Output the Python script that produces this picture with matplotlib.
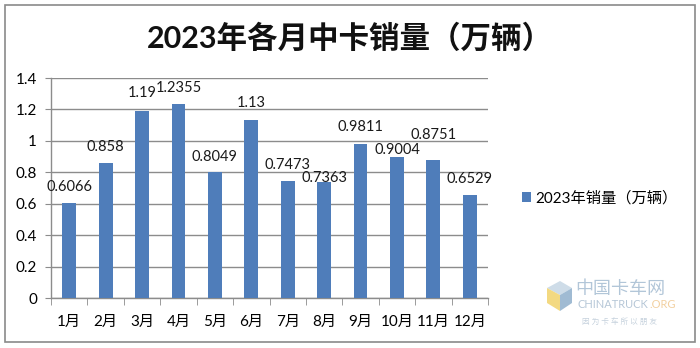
import matplotlib
matplotlib.use("Agg")
import matplotlib.pyplot as plt
from matplotlib.patches import Rectangle, Polygon

plt.rcParams['font.family'] = ['Lato', 'Noto Sans CJK SC', 'DejaVu Sans']

months = ["1月", "2月", "3月", "4月", "5月", "6月", "7月", "8月", "9月", "10月", "11月", "12月"]
sales = [0.6066, 0.858, 1.19, 1.2355, 0.8049, 1.13, 0.7473, 0.7363, 0.9811, 0.9004, 0.8751, 0.6529]
value_labels = ["0.6066", "0.858", "1.19", "1.2355", "0.8049", "1.13", "0.7473", "0.7363",
                "0.9811", "0.9004", "0.8751", "0.6529"]
y_ticks = [0, 0.2, 0.4, 0.6, 0.8, 1.0, 1.2, 1.4]
y_tick_labels = ["0", "0.2", "0.4", "0.6", "0.8", "1", "1.2", "1.4"]
title = "2023年各月中卡销量（万辆）"
series_name = "2023年销量（万辆）"

# vertical gap (points) between each bar top and its value label
label_lift = [11.5, 11.5, 13, 11.5, 10.5, 12.5, 11.5, 3, 12, 4.5, 18.5, 12]

bar_color = "#4F7DBA"
grid_color = "#8C8C8C"

fig = plt.figure(figsize=(7.0, 3.48), dpi=100)
fig.patch.set_facecolor("white")

# outer frame
fig.add_artist(Rectangle((5 / 700, 6 / 348), 690 / 700, 337 / 348, transform=fig.transFigure,
                         fill=False, edgecolor="#8A8A8A", linewidth=1.2))

ax = fig.add_axes([51 / 700, 1 - 298 / 348, 437 / 700, 220 / 348])
x = list(range(len(months)))
bars = ax.bar(x, sales, width=0.38, color=bar_color, label=series_name, zorder=3)

ax.set_xlim(-0.5, len(months) - 0.5)
ax.set_ylim(0, 1.4)
ax.set_yticks(y_ticks)
ax.set_yticklabels(y_tick_labels, fontsize=11)
ax.set_xticks(x)
ax.set_xticklabels(months, fontsize=11)
ax.tick_params(axis='x', length=0, pad=12)
ax.tick_params(axis='y', length=4, color=grid_color, pad=6)

# category separators on the x axis
ax.set_xticks([i - 0.5 for i in range(len(months) + 1)], minor=True)
ax.tick_params(axis='x', which='minor', length=5, color=grid_color, direction='out')

ax.grid(axis='y', color=grid_color, linewidth=1.0, zorder=0)
for side in ("top", "right"):
    ax.spines[side].set_visible(False)
for side in ("left", "bottom"):
    ax.spines[side].set_color(grid_color)
    ax.spines[side].set_linewidth(1.0)

for xi, v, lab, lift in zip(x, sales, value_labels, label_lift):
    ax.annotate(lab, (xi, v), xytext=(0, lift), textcoords="offset points",
                ha="center", va="center", fontsize=10.5, color="#1a1a1a", zorder=4)

fig.text(0.5, 1 - 38 / 348, title, ha="center", va="center", fontsize=22, fontweight="bold",
         color="#111111")

fig.legend(handles=[bars], labels=[series_name], loc="center left",
           bbox_to_anchor=(508 / 700, 1 - 198 / 348), frameon=False, fontsize=11,
           handlelength=0.6, handleheight=0.6, handletextpad=0.3)

# site watermark: small cube emblem plus name
def fpt(px, py):
    return (px / 700, 1 - py / 348)

fig.add_artist(Polygon([fpt(547, 288), fpt(560, 281), fpt(572, 288), fpt(560, 295)],
                       closed=True, transform=fig.transFigure, facecolor="#C9D9E6",
                       edgecolor="none", alpha=0.9))
fig.add_artist(Polygon([fpt(547, 288), fpt(560, 295), fpt(560, 311), fpt(547, 303)],
                       closed=True, transform=fig.transFigure, facecolor="#F2D36B",
                       edgecolor="none", alpha=0.85))
fig.add_artist(Polygon([fpt(560, 295), fpt(572, 288), fpt(572, 303), fpt(560, 311)],
                       closed=True, transform=fig.transFigure, facecolor="#8FB0CC",
                       edgecolor="none", alpha=0.85))
fig.text(620 / 700, 1 - 289 / 348, "中国卡车网", ha="center", va="center", fontsize=13,
         color="#9FB8CF", alpha=0.8)
brand = fig.text(577 / 700, 1 - 304 / 348, "CHINATRUCK", ha="left", va="center", fontsize=8,
                 color="#A9BDD0", alpha=0.85)
fig.add_artist(plt.Annotation(".ORG", xy=(1, 0.5), xycoords=brand, xytext=(1, 0),
                              textcoords="offset points", ha="left", va="center", fontsize=8,
                              color="#F0C890", alpha=0.85))
fig.text(620 / 700, 1 - 321 / 348, "因 为 卡 车 所 以 朋 友", ha="center", va="center", fontsize=5.5,
         color="#B7C6D4", alpha=0.8)

fig.savefig("out.png", dpi=100)
